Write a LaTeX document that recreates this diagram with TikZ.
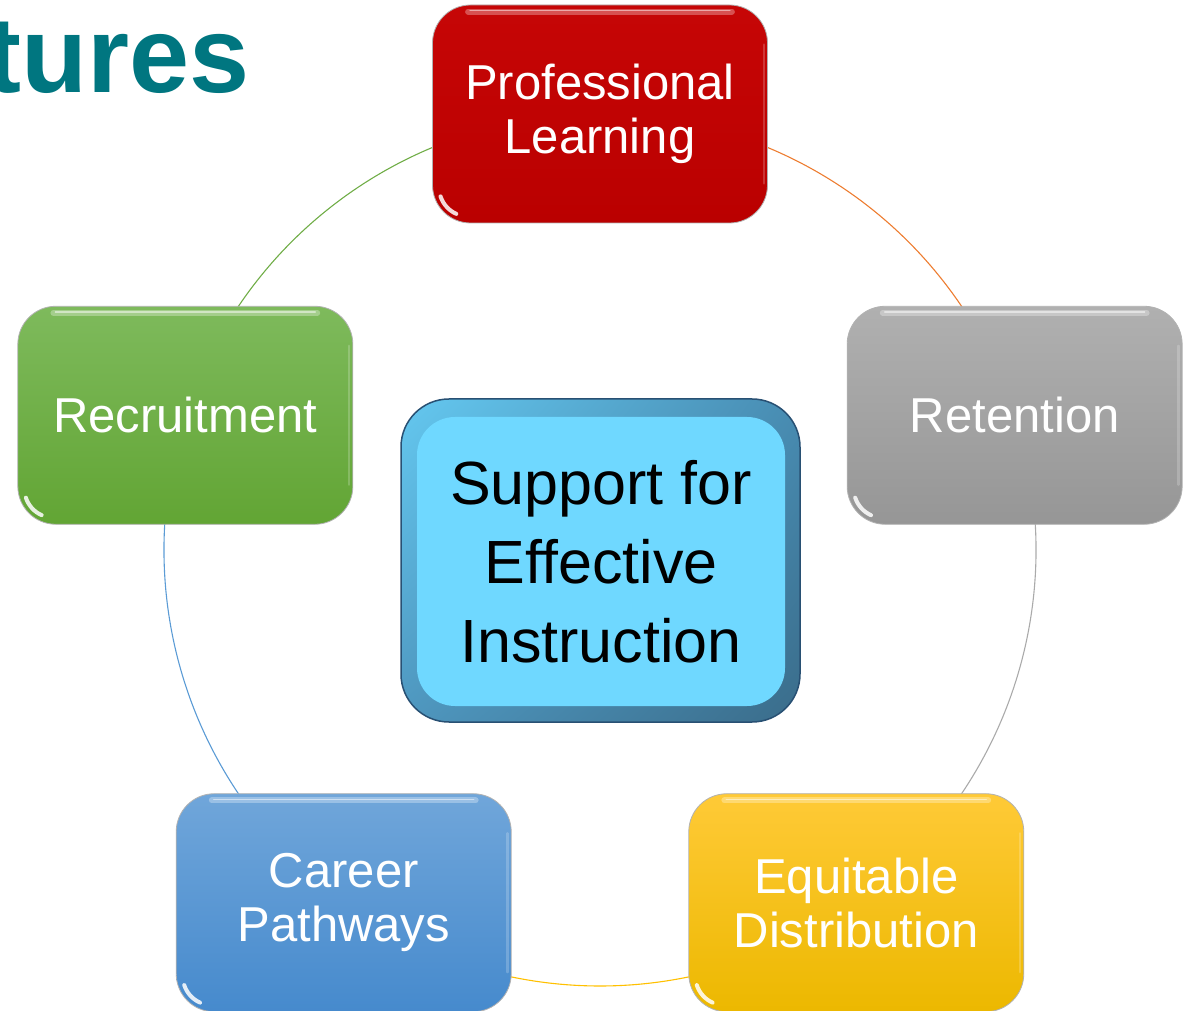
\documentclass[tikz,border=0pt]{standalone}
\usepackage{fontspec}
\setmainfont{Liberation Sans}
\usetikzlibrary{backgrounds,calc,shadings}
\definecolor{titleteal}{RGB}{0,118,128}
\definecolor{redtop}{RGB}{198,6,6}
\definecolor{redbot}{RGB}{186,0,0}
\definecolor{graytop}{RGB}{176,176,176}
\definecolor{graybot}{RGB}{150,150,150}
\definecolor{greentop}{RGB}{126,186,92}
\definecolor{greenbot}{RGB}{98,165,52}
\definecolor{bluetop}{RGB}{112,166,218}
\definecolor{bluebot}{RGB}{70,138,205}
\definecolor{yeltop}{RGB}{255,202,55}
\definecolor{yelbot}{RGB}{236,184,0}
\definecolor{ringorange}{RGB}{237,125,49}
\definecolor{ringgray}{RGB}{170,170,170}
\definecolor{ringyellow}{RGB}{255,192,0}
\definecolor{ringblue}{RGB}{91,155,213}
\definecolor{ringgreen}{RGB}{112,173,71}
\definecolor{hubfill}{RGB}{111,216,255}
\definecolor{hubline}{RGB}{40,80,115}
\definecolor{frameUL}{RGB}{100,200,240}
\definecolor{frameUR}{RGB}{72,140,178}
\definecolor{frameLL}{RGB}{78,150,190}
\definecolor{frameLR}{RGB}{58,108,138}
\newcommand{\glossy}[1]{%
  \draw[white, opacity=0.3, line width=6pt, line cap=round]
    ([xshift=36pt,yshift=-7pt]#1.north west) -- ([xshift=-36pt,yshift=-7pt]#1.north east);
  \draw[white, opacity=0.5, line width=1.6pt, line cap=round]
    ([xshift=38pt,yshift=-6pt]#1.north west) -- ([xshift=-38pt,yshift=-6pt]#1.north east);
  \draw[white, opacity=0.2, line width=2.5pt, line cap=round]
    ([xshift=-4pt,yshift=-40pt]#1.north east) -- ([xshift=-4pt,yshift=40pt]#1.south east);
  \draw[white, opacity=0.85, line width=4pt, line cap=round]
    ($(#1.south west)+(36,36)+(198:29)$) arc[start angle=198, end angle=246, radius=29];
}
\begin{document}
\begin{tikzpicture}[x=1pt,y=1pt,
  box/.style={rounded corners=38pt, minimum width=335pt, minimum height=218pt,
    draw=black!30, line width=0.8pt, text=white, align=center, inner sep=0pt,
    font=\fontsize{49}{54}\selectfont},
  ring/.style={line width=1.1pt},
  hubtext/.style={font=\fontsize{61}{79}\selectfont, align=center, text=black}
]
\useasboundingbox (0,0) rectangle (1196,1010);
\coordinate (c) at (600,460);

\node[anchor=base east, inner sep=0pt, text=titleteal,
  font=\fontsize{108}{108}\bfseries\selectfont] (title) at (250,917) {tures};

\node[box, top color=redtop, bottom color=redbot] (pl) at ($(c)+(90:436)$) {Professional\\Learning};
\node[box, top color=graytop, bottom color=graybot] (rt) at ($(c)+(18:436)$) {Retention};
\node[box, top color=yeltop, bottom color=yelbot] (ed) at ($(c)+(-54:436)$) {Equitable\\Distribution};
\node[box, top color=bluetop, bottom color=bluebot] (cp) at ($(c)+(-126:436)$) {Career\\Pathways};
\node[box, top color=greentop, bottom color=greenbot] (rc) at ($(c)+(162:436)$) {Recruitment};

\glossy{pl}\glossy{rt}\glossy{ed}\glossy{cp}\glossy{rc}

\node[rounded corners=48pt, minimum width=399pt, minimum height=323pt,
  draw=hubline, line width=1.5pt, inner sep=0pt,
  upper left=frameUL, upper right=frameUR, lower left=frameLL, lower right=frameLR]
  (hubframe) at (600.5,449.5) {};
\node[rounded corners=38pt, minimum width=368pt, minimum height=289pt,
  fill=hubfill, inner sep=0pt, hubtext] (hub) at (601,448.5)
  {Support for\\Effective\\Instruction};

\begin{scope}[on background layer]
\draw[ring, ringgreen] (rc.center) arc[start angle=162, end angle=90, radius=436];
\draw[ring, ringorange] (pl.center) arc[start angle=90, end angle=18, radius=436];
\draw[ring, ringgray] (rt.center) arc[start angle=18, end angle=-54, radius=436];
\draw[ring, ringyellow] (ed.center) arc[start angle=-54, end angle=-126, radius=436];
\draw[ring, ringblue] (cp.center) arc[start angle=-126, end angle=-198, radius=436];
\end{scope}
\end{tikzpicture}
\end{document}
